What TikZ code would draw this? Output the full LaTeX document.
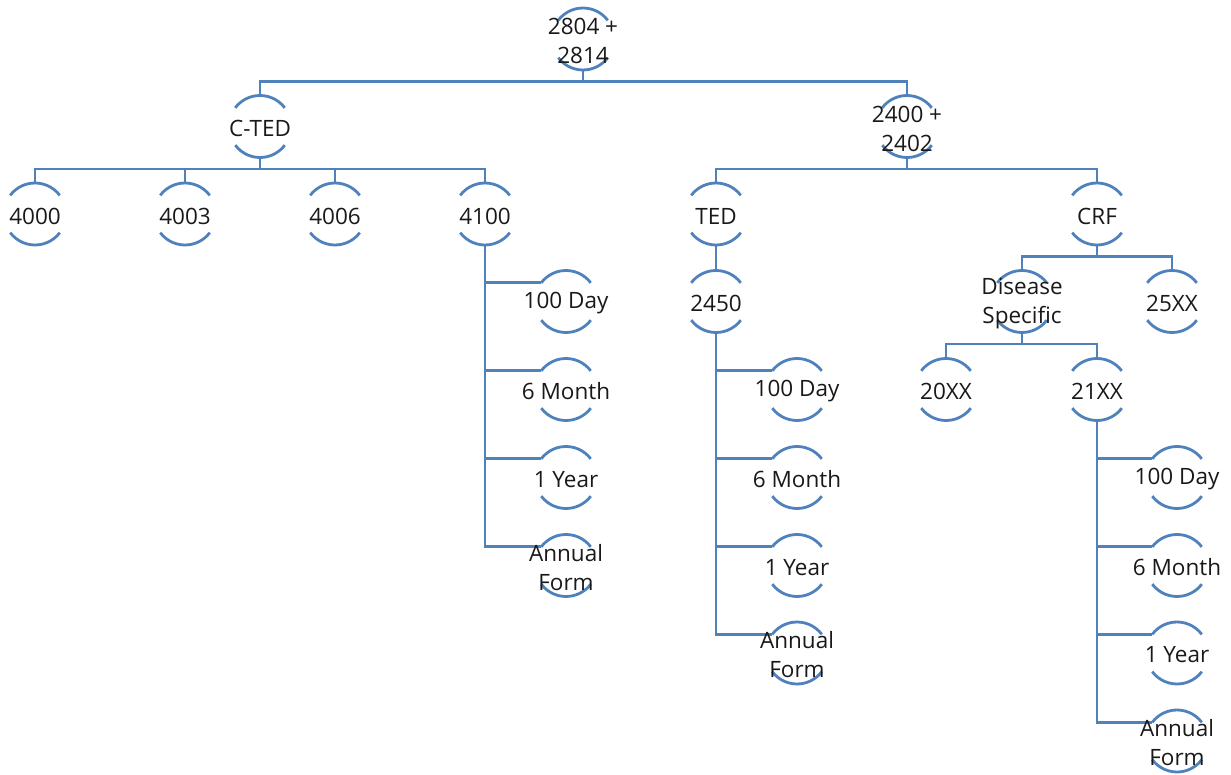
\documentclass[tikz,border=0pt]{standalone}
\usepackage{fontspec}
\setmainfont{Open Sans}
\usetikzlibrary{backgrounds}
\definecolor{lineblue}{RGB}{79,129,189}
\tikzset{
  cnode/.style={circle, minimum size=62pt, inner sep=0pt, outer sep=0pt},
  txt/.style={font=\fontsize{22.5}{29}\selectfont, align=center, text=black!90, inner sep=0pt, yshift=-2pt},
  conn/.style={draw=lineblue, line width=2.8pt},
}
\newcommand\mknode[4]{\node[cnode, label={[txt]center:{#4}}] (#1) at (#2,-#3) {};}
\newcommand\treeedge[2]{\draw[conn] (#1.south) -- ++(0,-11.5) -| (#2.north);}
\newcommand\sideedge[2]{\draw[conn] (#1.south) |- (#2.143);}
\begin{document}
\begin{tikzpicture}[x=1pt,y=1pt]
\useasboundingbox (0,0) rectangle (1231,-775);
% levels
\def\La{39}\def\Lb{126.5}\def\Lc{214}\def\Ld{301.5}\def\Le{389.5}
\def\Lf{477.5}\def\Lg{565.5}\def\Lh{653}\def\Li{741}
\mknode{root}{583}{\La}{2804 +\\2814}
\mknode{cted}{260}{\Lb}{C-TED}
\mknode{tf}{907}{\Lb}{2400 +\\2402}
\mknode{a4000}{35}{\Lc}{4000}
\mknode{a4003}{185}{\Lc}{4003}
\mknode{a4006}{335}{\Lc}{4006}
\mknode{a4100}{485}{\Lc}{4100}
\mknode{ted}{716}{\Lc}{TED}
\mknode{crf}{1097}{\Lc}{CRF}
% 4100 children
\mknode{ca}{566}{\Ld}{100 Day}
\mknode{cb}{566}{\Le}{6 Month}
\mknode{cc}{566}{\Lf}{1 Year}
\mknode{cd}{566}{\Lg}{Annual\\Form}
% TED branch
\mknode{t2450}{716}{\Ld}{2450}
\mknode{ta}{797}{\Le}{100 Day}
\mknode{tb}{797}{\Lf}{6 Month}
\mknode{tc}{797}{\Lg}{1 Year}
\mknode{td}{797}{\Lh}{Annual\\Form}
% CRF branch
\mknode{dis}{1022}{\Ld}{Disease\\Specific}
\mknode{x25}{1172}{\Ld}{25XX}
\mknode{x20}{946}{\Le}{20XX}
\mknode{x21}{1097}{\Le}{21XX}
\mknode{ra}{1177}{\Lf}{100 Day}
\mknode{rb}{1177}{\Lg}{6 Month}
\mknode{rc}{1177}{\Lh}{1 Year}
\mknode{rd}{1177}{\Li}{Annual\\Form}
\begin{scope}[on background layer]
\foreach \n in {root,cted,tf,a4000,a4003,a4006,a4100,ted,crf,ca,cb,cc,cd,t2450,ta,tb,tc,td,dis,x25,x20,x21,ra,rb,rc,rd}{
  \draw[conn] (\n.37) arc[start angle=37, end angle=143, radius=31pt];
  \draw[conn] (\n.217) arc[start angle=217, end angle=323, radius=31pt];
}
\treeedge{root}{cted}
\treeedge{root}{tf}
\treeedge{cted}{a4000}
\treeedge{cted}{a4003}
\treeedge{cted}{a4006}
\treeedge{cted}{a4100}
\treeedge{tf}{ted}
\treeedge{tf}{crf}
\draw[conn] (ted.south) -- (t2450.north);
\treeedge{crf}{dis}
\treeedge{crf}{x25}
\treeedge{dis}{x20}
\treeedge{dis}{x21}
\sideedge{a4100}{ca}
\sideedge{a4100}{cb}
\sideedge{a4100}{cc}
\sideedge{a4100}{cd}
\sideedge{t2450}{ta}
\sideedge{t2450}{tb}
\sideedge{t2450}{tc}
\sideedge{t2450}{td}
\sideedge{x21}{ra}
\sideedge{x21}{rb}
\sideedge{x21}{rc}
\sideedge{x21}{rd}
\end{scope}
\end{tikzpicture}
\end{document}
